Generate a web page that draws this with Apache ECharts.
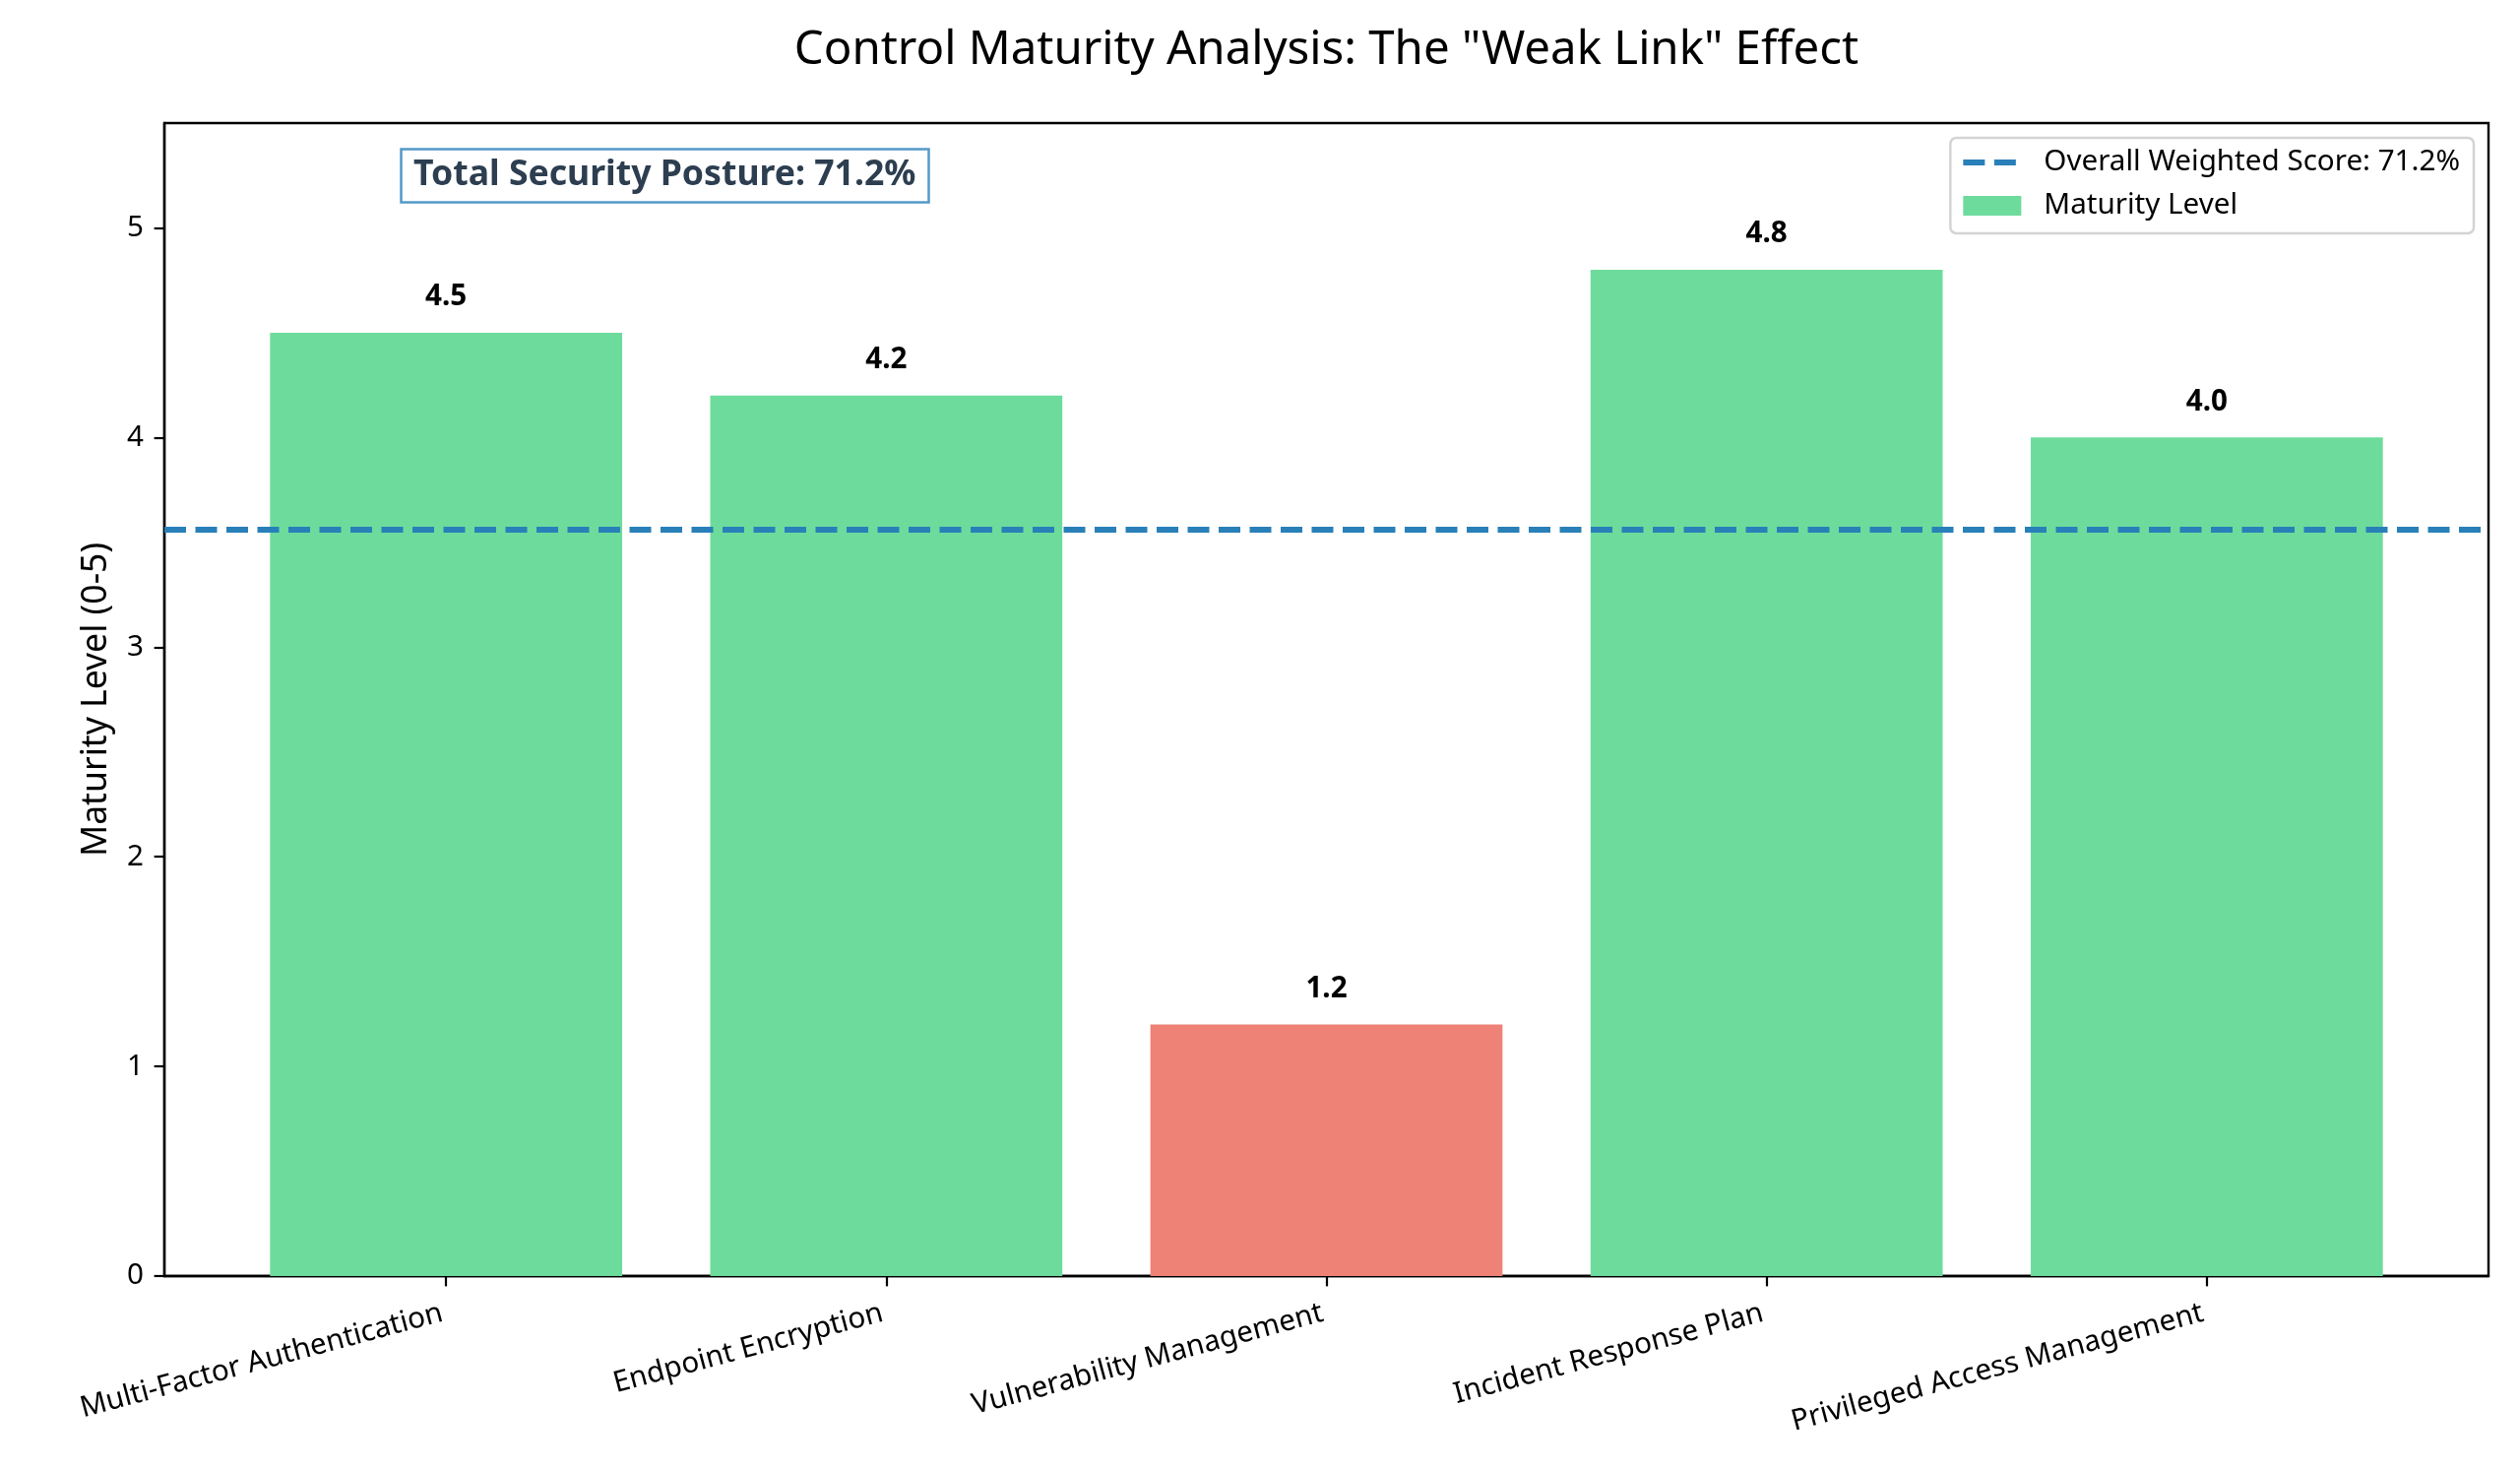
<!DOCTYPE html>
<html>
<head>
<meta charset="utf-8">
<title>Control Maturity Analysis</title>
<script src="https://cdn.jsdelivr.net/npm/echarts@6.0.0/dist/echarts.min.js"></script>
<style>
  html, body { margin: 0; padding: 0; background: #ffffff; }
  #chart { width: 2560px; height: 1493px; }
</style>
</head>
<body>
<div id="chart"></div>
<script>
// data
const controls = [
  'Multi-Factor Authentication',
  'Endpoint Encryption',
  'Vulnerability Management',
  'Incident Response Plan',
  'Privileged Access Management'
];
const maturity = [4.5, 4.2, 1.2, 4.8, 4.0];
const overallScore = 71.2;   // percent of max level
const maxLevel = 5;
const yTicks = [0, 1, 2, 3, 4, 5];
const xTicks = [0, 1, 2, 3, 4];

const GREEN = '#6ddb9c';
const RED = '#ee8276';
const LINE_BLUE = '#2980b9';
const weakThreshold = 2;

const FONT = '"Noto Sans", "DejaVu Sans", sans-serif';

const gridLeft = 167, gridRight = 32, gridTop = 125, gridBottom = 197;
const xMin = -0.64, xMax = 4.64;
const plotWidth = 2560 - gridLeft - gridRight;
const barWidth = 0.8 * plotWidth / (xMax - xMin);

const titleText = 'Control Maturity Analysis: The "Weak Link" Effect';
const titleSize = 47.4;

// title is centred over the plot area, not the page
function textWidth(text, font) {
  const ctx = document.createElement('canvas').getContext('2d');
  ctx.font = font;
  return ctx.measureText(text).width;
}
const titleLeft = gridLeft + plotWidth / 2 - textWidth(titleText, titleSize + 'px ' + FONT) / 2;

const lineName = 'Overall Weighted Score: ' + overallScore.toFixed(1) + '%';
const barName = 'Maturity Level';

const barData = controls.map((c, i) => ({
  value: [i, maturity[i]],
  itemStyle: { color: maturity[i] < weakThreshold ? RED : GREEN }
}));

const chart = echarts.init(document.getElementById('chart'));

const option = {
  backgroundColor: '#ffffff',
  animation: false,
  title: [
    {
      text: titleText,
      left: titleLeft,
      top: 28,
      padding: 0,
      textStyle: { fontFamily: FONT, fontSize: titleSize, fontWeight: 'normal', color: '#000000' }
    },
    {
      text: 'Total Security Posture: ' + overallScore.toFixed(1) + '%',
      left: 407,
      top: 151,
      padding: [9, 13, 10, 13],
      borderColor: '#5499c7',
      borderWidth: 2.5,
      backgroundColor: '#ffffff',
      textStyle: { fontFamily: FONT, fontSize: 35.6, fontWeight: 'bold', color: '#2c3e50', lineHeight: 36 }
    }
  ],
  legend: {
    orient: 'vertical',
    right: 47,
    top: 140,
    padding: [10, 14, 13, 13],
    itemGap: 14,
    itemWidth: 77,
    itemHeight: 20,
    backgroundColor: '#ffffff',
    borderColor: '#d4d4d4',
    borderWidth: 2.5,
    borderRadius: 6,
    textStyle: { fontFamily: FONT, fontSize: 29.6, color: '#000000', lineHeight: 30 },
    data: [
      {
        name: lineName,
        icon: 'path://M0,-7M0,0h22v6h-22zM31.5,0h22v6h-22zM77,13',
        itemStyle: { color: LINE_BLUE }
      },
      {
        name: barName,
        icon: 'path://M0,0h59v20h-59zM77,0',
        itemStyle: { color: GREEN }
      }
    ]
  },
  grid: {
    left: gridLeft,
    right: gridRight,
    top: gridTop,
    bottom: gridBottom,
    show: true,
    borderColor: '#000000',
    borderWidth: 2.4
  },
  xAxis: {
    type: 'value',
    min: xMin,
    max: xMax,
    splitLine: { show: false },
    axisLine: { show: true, onZero: false, lineStyle: { color: '#000000', width: 2.4 } },
    axisTick: { show: true, customValues: xTicks, length: 10.4, lineStyle: { color: '#000000', width: 2.2 } },
    axisLabel: {
      customValues: xTicks,
      rotate: 15,
      margin: 36,
      padding: [0, 4, 0, 0],
      fontFamily: FONT,
      fontSize: 29.6,
      color: '#000000',
      formatter: v => controls[v]
    }
  },
  yAxis: {
    type: 'value',
    min: 0,
    max: 5.5,
    name: 'Maturity Level (0-' + maxLevel + ')',
    nameLocation: 'middle',
    nameGap: 51,
    nameTextStyle: { fontFamily: FONT, fontSize: 35.6, color: '#000000' },
    splitLine: { show: false },
    axisLine: { show: true, onZero: false, lineStyle: { color: '#000000', width: 2.4 } },
    axisTick: { show: true, customValues: yTicks, length: 10.4, lineStyle: { color: '#000000', width: 2.2 } },
    axisLabel: {
      customValues: yTicks,
      margin: 21,
      padding: [3, 0, 0, 0],
      fontFamily: FONT,
      fontSize: 29.6,
      color: '#000000'
    }
  },
  series: [
    {
      name: barName,
      type: 'bar',
      barWidth: barWidth,
      data: barData,
      label: {
        show: true,
        position: 'top',
        distance: 21,
        fontFamily: FONT,
        fontSize: 29.6,
        fontWeight: 'bold',
        color: '#000000',
        formatter: p => p.value[1].toFixed(1)
      }
    },
    {
      name: lineName,
      type: 'line',
      data: [],
      z: 5,
      lineStyle: { color: LINE_BLUE },
      itemStyle: { color: LINE_BLUE },
      markLine: {
        silent: true,
        symbol: 'none',
        label: { show: false },
        lineStyle: { color: LINE_BLUE, width: 5.9, type: [22, 9.5] },
        data: [{ yAxis: overallScore / 100 * maxLevel }]
      }
    }
  ]
};

chart.setOption(option);
</script>
</body>
</html>
